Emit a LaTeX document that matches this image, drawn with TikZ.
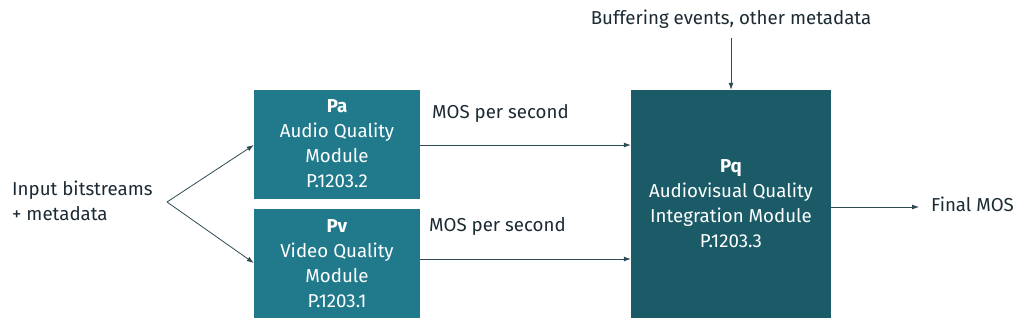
\documentclass[tikz,border=0pt]{standalone}
\usepackage{fontspec}
\setmainfont{Fira Sans}
\usetikzlibrary{arrows.meta,calc}
\definecolor{boxA}{HTML}{217A8C}
\definecolor{boxQ}{HTML}{1A5B67}
\definecolor{ink}{HTML}{1C2B33}
\definecolor{lineC}{HTML}{2E4A55}
\begin{document}
\begin{tikzpicture}[x=1pt,y=-1pt,
  every node/.style={font=\fontsize{18.7}{25}\selectfont, text=ink, inner sep=0pt},
  modbox/.style={fill=boxA, text=white, minimum width=166pt, minimum height=109pt, align=center},
  intbox/.style={fill=boxQ, text=white, minimum width=200pt, minimum height=228pt, align=center},
  conn/.style={draw=lineC, line width=0.8pt, -{Latex[length=7pt,width=5pt]}},
  lbl/.style={anchor=west, align=left}]
\useasboundingbox (0,0) rectangle (1030,325);
\node[modbox] (pa) at (337,144) {\textbf{Pa}\\Audio Quality\\Module\\P.1203.2};
\node[modbox] (pv) at (337,263.5) {\textbf{Pv}\\Video Quality\\Module\\P.1203.1};
\node[intbox] (pq) at (731,204) {\textbf{Pq}\\Audiovisual Quality\\Integration Module\\P.1203.3};
\node[lbl, align=left] (in) at (12,201) {Input bitstreams\\+ metadata};
\coordinate (fork) at (167,202);
\node (buf) at (731,19) {Buffering events, other metadata};
\coordinate (bufend) at (731,38);
\node[lbl] (fin) at (931,204) {Final MOS};
\node[lbl] (m1) at (432,113) {MOS per second};
\node[lbl] (m2) at (429,226) {MOS per second};
\draw[conn] (fork) -- (pa.west |- 0,145);
\draw[conn] (fork) -- (pv.west |- 0,263);
\draw[conn] (pa.east |- 0,145) -- (pq.west |- 0,145);
\draw[conn] (pv.east |- 0,259) -- (pq.west |- 0,259);
\draw[conn] (bufend) -- (pq.north);
\draw[conn] (pq.east |- 0,207) -- ($(fin.west)+(-12,3)$);
\end{tikzpicture}
\end{document}
